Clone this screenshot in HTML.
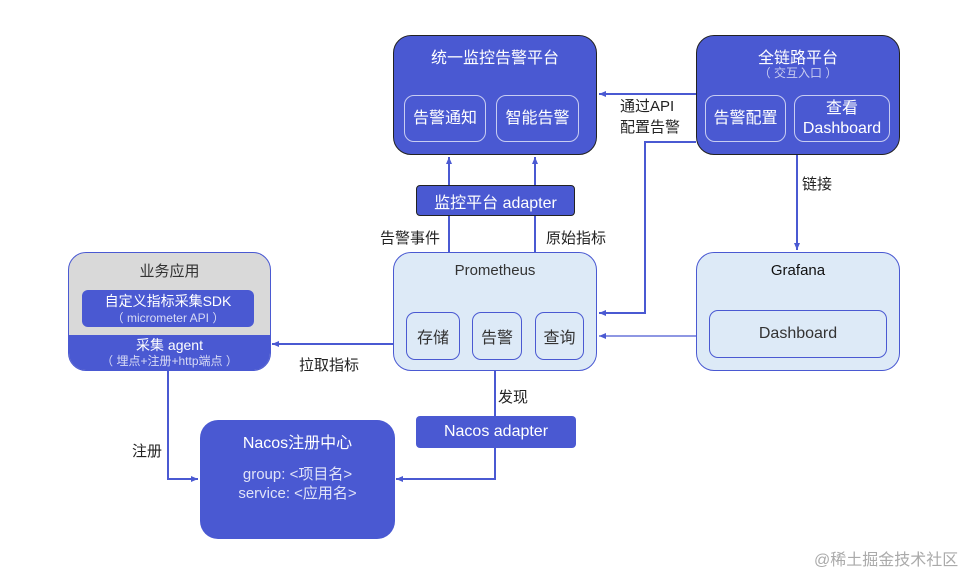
<!DOCTYPE html>
<html><head><meta charset="utf-8"><style>
body{margin:0;width:980px;height:573px;background:#fff;position:relative;overflow:hidden;font-family:"Liberation Sans","Noto Sans CJK SC",sans-serif;}
.b{position:absolute;box-sizing:border-box;}
.t{position:absolute;white-space:nowrap;font-size:15px;color:#222;}
.dk{background:#4a59d2;border:1px solid #222;border-radius:18px;}
.in{border:1px solid #c8cdf2;border-radius:10px;color:#fff;display:flex;align-items:center;justify-content:center;text-align:center;font-size:16px;line-height:20px;}
.lt{background:#ddeaf7;border:1px solid #4a59d2;border-radius:18px;}
.li{border:1px solid #4a59d2;border-radius:9px;color:#333;display:flex;align-items:center;justify-content:center;font-size:16px;}
.c{text-align:center;}
</style></head><body>
<svg width="980" height="573" style="position:absolute;left:0;top:0">
<defs><marker id="a" markerWidth="8" markerHeight="8" refX="7" refY="4" orient="auto" markerUnits="userSpaceOnUse"><path d="M0,1 L7,4 L0,7z" fill="#4a59d2"/></marker></defs>
<g stroke="#4a59d2" stroke-width="2" fill="none">
<line x1="696" y1="94" x2="599" y2="94" marker-end="url(#a)"/>
<polyline points="696,142 645,142 645,313 599,313" marker-end="url(#a)"/>
<line x1="797" y1="155" x2="797" y2="250" marker-end="url(#a)"/>
<line x1="449" y1="252" x2="449" y2="157" marker-end="url(#a)"/>
<line x1="535" y1="252" x2="535" y2="157" marker-end="url(#a)"/>
<line x1="696" y1="336" x2="599" y2="336" stroke-width="1.2" marker-end="url(#a)"/>
<line x1="393" y1="344" x2="272" y2="344" marker-end="url(#a)"/>
<polyline points="168,370 168,479 198,479" marker-end="url(#a)"/>
<line x1="495" y1="371" x2="495" y2="416"/>
<polyline points="495,448 495,479 396,479" marker-end="url(#a)"/>
</g></svg>

<div class="b dk" style="left:393px;top:35px;width:204px;height:120px"></div>
<div class="t c" style="left:393px;top:44px;width:204px;color:#fff;font-size:16px">统一监控告警平台</div>
<div class="b in" style="left:404px;top:95px;width:82px;height:47px">告警通知</div>
<div class="b in" style="left:496px;top:95px;width:83px;height:47px">智能告警</div>

<div class="b dk" style="left:696px;top:35px;width:204px;height:120px"></div>
<div class="t c" style="left:696px;top:44px;width:204px;color:#fff;font-size:16px">全链路平台</div>
<div class="t c" style="left:696px;top:64px;width:204px;color:#c8ccef;font-size:12px">（ 交互入口 ）</div>
<div class="b in" style="left:705px;top:95px;width:81px;height:47px">告警配置</div>
<div class="b in" style="left:794px;top:95px;width:96px;height:47px">查看<br>Dashboard</div>

<div class="t" style="left:620px;top:96px;line-height:21px">通过API<br>配置告警</div>
<div class="t" style="left:802px;top:173px">链接</div>

<div class="b" style="left:416px;top:185px;width:159px;height:31px;background:#4a59d2;border:1px solid #222;border-radius:4px;color:#fff;font-size:16px;display:flex;align-items:center;justify-content:center">监控平台 adapter</div>
<div class="t" style="left:380px;top:227px">告警事件</div>
<div class="t" style="left:546px;top:227px">原始指标</div>

<div class="b lt" style="left:393px;top:252px;width:204px;height:119px"></div>
<div class="t c" style="left:393px;top:262px;width:204px;color:#333;font-size:15px">Prometheus</div>
<div class="b li" style="left:406px;top:312px;width:54px;height:48px">存储</div>
<div class="b li" style="left:472px;top:312px;width:50px;height:48px">告警</div>
<div class="b li" style="left:535px;top:312px;width:49px;height:48px">查询</div>

<div class="b lt" style="left:696px;top:252px;width:204px;height:119px"></div>
<div class="t c" style="left:696px;top:262px;width:204px;color:#111;font-size:15px">Grafana</div>
<div class="b li" style="left:709px;top:310px;width:178px;height:48px">Dashboard</div>

<div class="b" style="left:68px;top:252px;width:203px;height:119px;border:1.5px solid #4a59d2;border-radius:18px;overflow:hidden;background:#d9d9d9">
<div style="position:absolute;left:0;top:82px;width:100%;height:40px;background:#4a59d2"></div></div>
<div class="t c" style="left:68px;top:260px;width:203px;color:#333">业务应用</div>
<div class="b" style="left:82px;top:290px;width:172px;height:37px;background:#4a59d2;border-radius:6px"></div>
<div class="t c" style="left:82px;top:291px;width:172px;color:#fff;font-size:14px">自定义指标采集SDK</div>
<div class="t c" style="left:82px;top:309px;width:172px;color:#d8dbf5;font-size:12px">（ micrometer API ）</div>
<div class="t c" style="left:68px;top:335px;width:203px;color:#fff;font-size:14px">采集 agent</div>
<div class="t c" style="left:68px;top:352px;width:203px;color:#d8dbf5;font-size:12px">（ 埋点+注册+http端点 ）</div>

<div class="t" style="left:299px;top:354px">拉取指标</div>
<div class="t" style="left:498px;top:386px">发现</div>
<div class="t" style="left:132px;top:440px">注册</div>

<div class="b" style="left:416px;top:416px;width:160px;height:32px;background:#4a59d2;border-radius:4px;color:#fff;font-size:16px;display:flex;align-items:center;justify-content:center">Nacos adapter</div>

<div class="b" style="left:200px;top:420px;width:195px;height:119px;background:#4a59d2;border-radius:18px"></div>
<div class="t c" style="left:200px;top:429px;width:195px;color:#fff;font-size:16px">Nacos注册中心</div>
<div class="t c" style="left:200px;top:465px;width:195px;color:#e0e3f8;font-size:15px;line-height:19px">group: &lt;项目名&gt;<br>service: &lt;应用名&gt;</div>

<div class="t" style="left:814px;top:546px;color:#aaa;font-size:16px">@稀土掘金技术社区</div>
</body></html>
